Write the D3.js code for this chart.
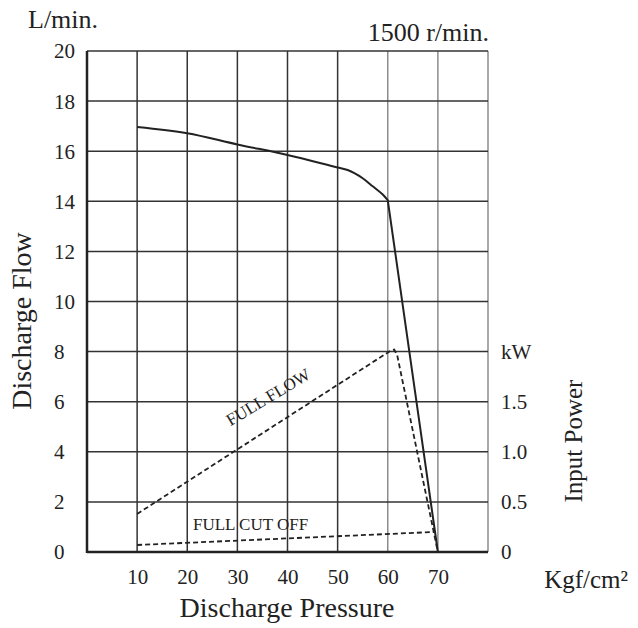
<!DOCTYPE html>
<html><head><meta charset="utf-8">
<script src="https://cdn.jsdelivr.net/npm/d3@7/dist/d3.min.js"></script>
<style>
body{margin:0;background:#fff;}
svg text{font-family:"Liberation Serif",serif !important;fill:#222;}
</style></head>
<body><svg id="c" width="638" height="628" font-family="Liberation Serif, serif"></svg>
<script>
// ---- data ----
const pressureTicks = [10,20,30,40,50,60,70];
const flowTicks = [0,2,4,6,8,10,12,14,16,18,20];
const powerTicks = [0,0.5,1.0,1.5,2.0];
const powerTickLabels = ["0","0.5","1.0","1.5","kW"];
const dischargePressure = [10,20,30,40,50,52,55,57,59,60,70];
const dischargeFlow = [16.97,16.72,16.27,15.85,15.35,15.25,14.92,14.6,14.27,14.05,0];
const fullFlowPressure = [10,60.6,61.3,61.9,70];
const fullFlowPower = [0.38,2.01,2.02,1.96,0.0];
const fullCutPressure = [10,69.3];
const fullCutPower = [0.07,0.2];

const svg = d3.select("#c");
const x = d3.scaleLinear([0,80],[87,488]);
const y = d3.scaleLinear([0,20],[552,51]);
const yR = d3.scaleLinear([0,5],[552,51]);
const FF = "Liberation Serif, serif";

// grid
const gridX = d3.range(10,81,10);
svg.append("g").selectAll("line").data(gridX).join("line")
  .attr("x1",d=>x(d)).attr("x2",d=>x(d)).attr("y1",y(0)).attr("y2",y(20))
  .attr("stroke",d=>d>=60?"#8c8c8c":"#333").attr("stroke-width",1.5);
svg.append("g").selectAll("line").data(flowTicks.filter(d=>d>0)).join("line")
  .attr("x1",x(0)).attr("x2",x(80)).attr("y1",d=>y(d)).attr("y2",d=>y(d))
  .attr("stroke","#333").attr("stroke-width",1.5);
// frame axes
svg.append("line").attr("x1",x(0)).attr("x2",x(0)).attr("y1",y(0)+1).attr("y2",y(20))
  .attr("stroke","#222").attr("stroke-width",2.5);
svg.append("line").attr("x1",x(0)).attr("x2",x(80)).attr("y1",y(0)).attr("y2",y(0))
  .attr("stroke","#222").attr("stroke-width",2.5);

// left axis labels
const la = svg.append("g").attr("transform","translate(54,0)")
  .call(d3.axisLeft(y).tickValues(flowTicks).tickSize(0).tickFormat(d3.format("d")));
la.attr("font-family",FF).attr("font-size",21);
la.select(".domain").remove();
la.selectAll("text").attr("x",0).attr("text-anchor","start").attr("dy","0.33em");

// right axis labels
const ra = svg.append("g").attr("transform","translate(501,0)")
  .call(d3.axisRight(yR).tickValues(powerTicks).tickSize(0).tickFormat((d,i)=>powerTickLabels[i]));
ra.attr("font-family",FF).attr("font-size",21);
ra.select(".domain").remove();
ra.selectAll("text").attr("x",0).attr("dy","0.33em");

// bottom axis labels
const ba = svg.append("g").attr("transform","translate(0,569)")
  .call(d3.axisBottom(x).tickValues(pressureTicks).tickSize(0).tickFormat(d3.format("d")));
ba.attr("font-family",FF).attr("font-size",21);
ba.select(".domain").remove();
ba.selectAll("text").attr("y",0).attr("dy","0.71em");

// curves
const flowPts = dischargePressure.map((p,i)=>[p,dischargeFlow[i]]);
const bendIdx = dischargePressure.indexOf(60);
const lineSmooth = d3.line().x(d=>x(d[0])).y(d=>y(d[1])).curve(d3.curveMonotoneX);
const lineStraight = d3.line().x(d=>x(d[0])).y(d=>y(d[1]));
svg.append("path").attr("d",lineSmooth(flowPts.slice(0,bendIdx+1)) + lineStraight(flowPts.slice(bendIdx)).replace(/^M/,"L"))
  .attr("fill","none").attr("stroke","#222").attr("stroke-width",2).attr("stroke-linejoin","round");
const lineFF = d3.line().x((d,i)=>x(fullFlowPressure[i])).y(d=>yR(d));
svg.append("path").attr("d",lineFF(fullFlowPower))
  .attr("fill","none").attr("stroke","#222").attr("stroke-width",1.8).attr("stroke-dasharray","5,3");
const lineFC = d3.line().x((d,i)=>x(fullCutPressure[i])).y(d=>yR(d));
svg.append("path").attr("d",lineFC(fullCutPower))
  .attr("fill","none").attr("stroke","#222").attr("stroke-width",1.8).attr("stroke-dasharray","5,3");

// texts
const T = (s)=>svg.append("text").attr("font-family",FF).attr("font-size",s);
T(26).attr("x",28).attr("y",28).text("L/min.");
T(26).attr("x",489).attr("y",41).attr("text-anchor","end").text("1500 r/min.");
T(28).attr("transform","translate(31,321) rotate(-90)").attr("text-anchor","middle").text("Discharge Flow");
T(25).attr("transform","translate(582,441) rotate(-90)").attr("text-anchor","middle").text("Input Power");
T(28).attr("x",287).attr("y",617).attr("text-anchor","middle").text("Discharge Pressure");
T(25).attr("x",628).attr("y",588).attr("text-anchor","end").text("Kgf/cm²");
T(17).attr("transform","translate(271,402) rotate(-31)").attr("text-anchor","middle").text("FULL FLOW");
T(17).attr("x",193).attr("y",530).text("FULL CUT OFF");
</script></body></html>
